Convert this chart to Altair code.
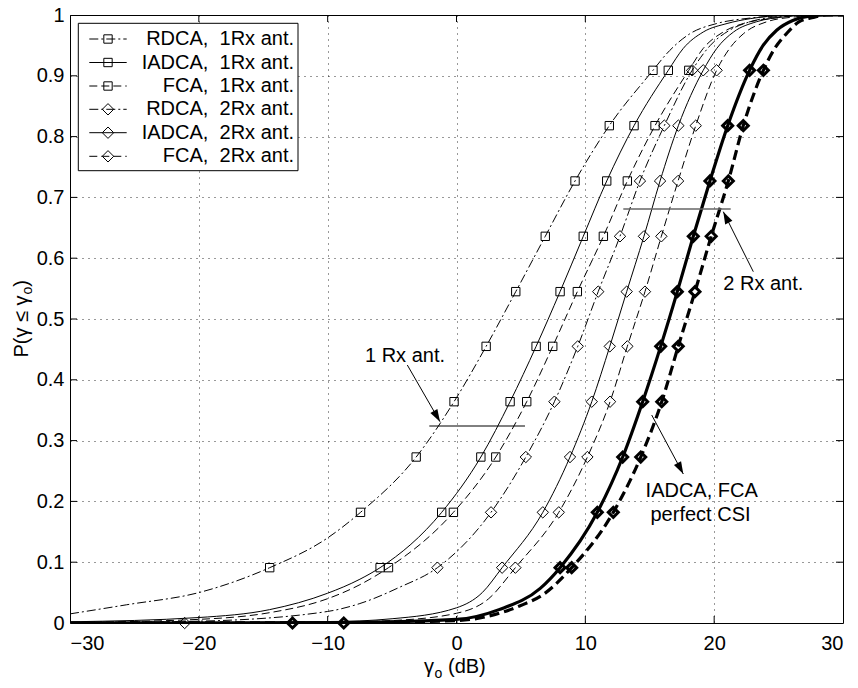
import math
import altair as alt
import pandas as pd

FONT = "Liberation Sans"

# ---------------- data ----------------
# probability levels of the markers
levels = [0.091, 0.182, 0.273, 0.364, 0.455, 0.545, 0.636, 0.727, 0.818, 0.909]

series_names = ["RDCA1", "IADCA1", "FCA1", "RDCA2", "IADCA2", "FCA2", "IADCAp", "FCAp"]

# marker x positions (dB) at the levels above
rdca1_mx = [-14.5, -7.45, -3.13, -0.19, 2.3, 4.6, 6.89, 9.2, 11.86, 15.25]
iadca1_mx = [-5.93, -1.15, 1.89, 4.16, 6.18, 8.04, 9.84, 11.66, 13.78, 16.44]
fca1_mx = [-5.28, -0.24, 3.05, 5.45, 7.47, 9.38, 11.4, 13.26, 15.41, 18.03]
rdca2_mx = [-1.48, 2.68, 5.38, 7.6, 9.41, 11.0, 12.69, 14.24, 16.13, 18.29]
iadca2_mx = [3.54, 6.7, 8.81, 10.5, 11.9, 13.21, 14.55, 15.8, 17.22, 19.15]
fca2_mx = [4.57, 7.94, 10.16, 11.92, 13.26, 14.63, 15.9, 17.2, 18.57, 20.19]
iadcap_mx = [8.04, 10.93, 12.9, 14.45, 15.85, 17.14, 18.38, 19.67, 21.05, 22.75]
fcap_mx = [8.94, 12.17, 14.3, 15.93, 17.21, 18.51, 19.77, 21.1, 22.26, 23.82]

# markers sitting at P = 0
zero_series = ["RDCA2", "IADCAp", "FCAp"]
zero_x = [-21.1, -12.73, -8.75]

# lower tails of the curves
rdca1_lo_x = [-30, -25.6, -20, -10]
rdca1_lo_y = [0.015, 0.030, 0.050, 0.140]
iadca1_lo_x = [-30, -20, -14.5, -10, -7.5]
iadca1_lo_y = [0.002, 0.009, 0.022, 0.049, 0.072]
fca1_lo_x = [-30, -20, -14.5, -10, -7.5]
fca1_lo_y = [0.001, 0.006, 0.017, 0.040, 0.063]
rdca2_lo_x = [-30, -20, -10, -7.5, -4.5]
rdca2_lo_y = [0.0005, 0.003, 0.019, 0.032, 0.058]
iadca2_lo_x = [-30, -10, -5, 0, 2]
iadca2_lo_y = [0.0, 0.002, 0.007, 0.025, 0.050]
fca2_lo_x = [-30, -10, -5, 0, 2.5]
fca2_lo_y = [0.0, 0.001, 0.004, 0.016, 0.040]
iadcap_lo_x = [-30, -10, 0, 3.3, 6.5]
iadcap_lo_y = [0.0, 0.0005, 0.006, 0.022, 0.057]
fcap_lo_x = [-30, -10, 0, 4.9, 6.74]
fcap_lo_y = [0.0, 0.0003, 0.004, 0.028, 0.047]

# upper tails of the curves
rdca1_hi_x = [16.3, 18.1, 20.2, 22.8, 25.4, 30]
rdca1_hi_y = [0.936, 0.969, 0.986, 0.995, 0.999, 1.0]
iadca1_hi_x = [17.6, 19.15, 21.0, 22.8, 25.5, 30]
iadca1_hi_y = [0.945, 0.972, 0.986, 0.994, 0.999, 1.0]
fca1_hi_x = [19.15, 20.7, 22.26, 24.3, 26.5, 30]
fca1_hi_y = [0.945, 0.972, 0.986, 0.994, 0.999, 1.0]
rdca2_hi_x = [19.7, 21.2, 22.8, 24.8, 27, 30]
rdca2_hi_y = [0.95, 0.975, 0.989, 0.997, 1.0, 1.0]
iadca2_hi_x = [20.2, 21.5, 23.3, 25.5, 27.5, 30]
iadca2_hi_y = [0.945, 0.972, 0.989, 0.997, 1.0, 1.0]
fca2_hi_x = [21.2, 22.26, 24.1, 26.3, 28, 30]
fca2_hi_y = [0.945, 0.969, 0.989, 0.997, 1.0, 1.0]
iadcap_hi_x = [23.8, 24.85, 26.1, 27.4, 29, 30]
iadcap_hi_y = [0.95, 0.975, 0.991, 0.998, 1.0, 1.0]
fcap_hi_x = [24.7, 25.6, 26.6, 27.7, 28.7, 30]
fcap_hi_y = [0.945, 0.969, 0.989, 0.996, 1.0, 1.0]

legend_labels = ["RDCA,\u00a0\u00a01Rx ant.", "IADCA,\u00a0\u00a01Rx ant.", "FCA,\u00a0\u00a01Rx ant.",
                 "RDCA,\u00a0\u00a02Rx ant.", "IADCA,\u00a0\u00a02Rx ant.", "FCA,\u00a0\u00a02Rx ant."]

x_ticks = [-30, -20, -10, 0, 10, 20, 30]
y_ticks = [0.0, 0.1, 0.2, 0.3, 0.4, 0.5, 0.6, 0.7, 0.8, 0.9, 1.0]

# ---------------- tables ----------------
parts = {
    "RDCA1": (rdca1_lo_x, rdca1_lo_y, rdca1_mx, rdca1_hi_x, rdca1_hi_y),
    "IADCA1": (iadca1_lo_x, iadca1_lo_y, iadca1_mx, iadca1_hi_x, iadca1_hi_y),
    "FCA1": (fca1_lo_x, fca1_lo_y, fca1_mx, fca1_hi_x, fca1_hi_y),
    "RDCA2": (rdca2_lo_x, rdca2_lo_y, rdca2_mx, rdca2_hi_x, rdca2_hi_y),
    "IADCA2": (iadca2_lo_x, iadca2_lo_y, iadca2_mx, iadca2_hi_x, iadca2_hi_y),
    "FCA2": (fca2_lo_x, fca2_lo_y, fca2_mx, fca2_hi_x, fca2_hi_y),
    "IADCAp": (iadcap_lo_x, iadcap_lo_y, iadcap_mx, iadcap_hi_x, iadcap_hi_y),
    "FCAp": (fcap_lo_x, fcap_lo_y, fcap_mx, fcap_hi_x, fcap_hi_y),
}
line_rows, mark_rows = [], []
for s in series_names:
    lx, ly, mx, hx, hy = parts[s]
    pts = list(zip(lx, ly)) + list(zip(mx, levels)) + list(zip(hx, hy))
    pts.sort(key=lambda p: p[0])
    for x, y in pts:
        line_rows.append({"s": s, "x": x, "y": y})
    for x, y in zip(mx, levels):
        mark_rows.append({"s": s, "x": x, "y": y})
for s, x in zip(zero_series, zero_x):
    mark_rows.append({"s": s, "x": x, "y": 0.0})
lines_df = pd.DataFrame(line_rows)
marks_df = pd.DataFrame(mark_rows)

# ---------------- scales / axes ----------------
W, H = 773, 608
PX = W / 60.0
PY = H / 1.0

def px2x(px):
    return (px - 70) / PX - 30

def py2y(py):
    return (623 - py) / PY

xscale = alt.Scale(domain=[-30, 30], nice=False, zero=False)
yscale = alt.Scale(domain=[0, 1], nice=False, zero=False)
X = alt.X("x:Q", scale=xscale, axis=alt.Axis(
    values=x_ticks, title="", grid=True, ticks=False, domain=False, labelPadding=10))
Y = alt.Y("y:Q", scale=yscale, axis=alt.Axis(
    values=y_ticks, title="", grid=True, ticks=False, domain=False, labelPadding=6,
    labelExpr="datum.value < 0.001 ? '0' : (datum.value > 0.999 ? '1' : format(datum.value, '.1f'))"))

DASHDOT = [9, 3, 2, 3]
DASH = [8, 4]
THICKDASH = [10, 5]

styles = {
    "RDCA1": dict(strokeWidth=1, strokeDash=DASHDOT),
    "IADCA1": dict(strokeWidth=1),
    "FCA1": dict(strokeWidth=1, strokeDash=DASH),
    "RDCA2": dict(strokeWidth=1, strokeDash=DASHDOT),
    "IADCA2": dict(strokeWidth=1),
    "FCA2": dict(strokeWidth=1, strokeDash=DASH),
    "IADCAp": dict(strokeWidth=3.2),
    "FCAp": dict(strokeWidth=3.2, strokeDash=THICKDASH),
}
marker_style = {
    "RDCA1": dict(shape="square", size=70, strokeWidth=1),
    "IADCA1": dict(shape="square", size=70, strokeWidth=1),
    "FCA1": dict(shape="square", size=70, strokeWidth=1),
    "RDCA2": dict(shape="diamond", size=130, strokeWidth=1),
    "IADCA2": dict(shape="diamond", size=130, strokeWidth=1),
    "FCA2": dict(shape="diamond", size=130, strokeWidth=1),
    "IADCAp": dict(shape="diamond", size=100, strokeWidth=3),
    "FCAp": dict(shape="diamond", size=100, strokeWidth=3),
}

layers = []
for s in series_names:
    layers.append(
        alt.Chart(lines_df).transform_filter(alt.datum.s == s)
        .mark_line(interpolate="monotone", color="black", clip=True, **styles[s])
        .encode(x=X, y=Y, order="x:Q")
    )
for s in series_names:
    layers.append(
        alt.Chart(marks_df).transform_filter(alt.datum.s == s)
        .mark_point(filled=False, color="black", opacity=1, **marker_style[s])
        .encode(x=X, y=Y)
    )

# inward tick marks on all four sides
tl_y = 7 / PY
tl_x = 7 / PX
tick_rows = []
for t in x_ticks[1:-1]:
    tick_rows.append({"x": t, "x2": t, "y": 0, "y2": tl_y})
    tick_rows.append({"x": t, "x2": t, "y": 1 - tl_y, "y2": 1})
for t in y_ticks[1:-1]:
    tick_rows.append({"x": -30, "x2": -30 + tl_x, "y": t, "y2": t})
    tick_rows.append({"x": 30 - tl_x, "x2": 30, "y": t, "y2": t})
layers.append(
    alt.Chart(pd.DataFrame(tick_rows)).mark_rule(color="black", strokeWidth=1)
    .encode(x=X, x2="x2:Q", y=Y, y2="y2:Q")
)

# ---------------- axis titles (with subscript o) ----------------
xt = pd.DataFrame([
    {"x": px2x(424.0), "y": py2y(673), "t": "γ", "k": "big"},
    {"x": px2x(434.5), "y": py2y(678), "t": "o", "k": "small"},
    {"x": px2x(448.0), "y": py2y(673), "t": "(dB)", "k": "big"},
])
layers.append(alt.Chart(xt).transform_filter(alt.datum.k == "big")
              .mark_text(font=FONT, fontSize=20, color="black", align="left", baseline="alphabetic")
              .encode(x=X, y=Y, text="t:N"))
layers.append(alt.Chart(xt).transform_filter(alt.datum.k == "small")
              .mark_text(font=FONT, fontSize=14, color="black", align="left", baseline="alphabetic")
              .encode(x=X, y=Y, text="t:N"))

yt = pd.DataFrame([
    {"x": px2x(28), "y": py2y(357.5), "t": "P(γ ≤ γ", "k": "big"},
    {"x": px2x(32), "y": py2y(294.5), "t": "o", "k": "small"},
    {"x": px2x(28), "y": py2y(286.7), "t": ")", "k": "big"},
])
layers.append(alt.Chart(yt).transform_filter(alt.datum.k == "big")
              .mark_text(font=FONT, fontSize=20, color="black", align="left", baseline="alphabetic",
                         angle=270)
              .encode(x=X, y=Y, text="t:N"))
layers.append(alt.Chart(yt).transform_filter(alt.datum.k == "small")
              .mark_text(font=FONT, fontSize=14, color="black", align="left", baseline="alphabetic",
                         angle=270)
              .encode(x=X, y=Y, text="t:N"))

# ---------------- annotations ----------------
hl = pd.DataFrame([
    {"x": px2x(429.3), "x2": px2x(525), "y": py2y(426), "c": "k"},
    {"x": px2x(623.3), "x2": px2x(730.7), "y": py2y(209), "c": "g"},
])
layers.append(alt.Chart(hl).transform_filter(alt.datum.c == "k")
              .mark_rule(color="black", strokeWidth=1).encode(x=X, x2="x2:Q", y=Y))
layers.append(alt.Chart(hl).transform_filter(alt.datum.c == "g")
              .mark_rule(color="#666666", strokeWidth=1.5).encode(x=X, x2="x2:Q", y=Y))

arrows_px = [
    ((407.3, 365.0), (440.0, 421.7)),
    ((753.3, 271.7), (723.3, 211.7)),
    ((651.7, 415.0), (683.3, 474.0)),
]
arrow_rows, head_rows = [], []
for (tx, ty), (hx, hy) in arrows_px:
    arrow_rows.append({"x": px2x(tx), "y": py2y(ty), "x2": px2x(hx), "y2": py2y(hy)})
    ang = math.degrees(math.atan2(hx - tx, -(hy - ty))) % 360
    head_rows.append({"x": px2x(hx), "y": py2y(hy), "a": ang})
layers.append(alt.Chart(pd.DataFrame(arrow_rows)).mark_rule(color="black", strokeWidth=1)
              .encode(x=X, y=Y, x2="x2:Q", y2="y2:Q"))
layers.append(alt.Chart(pd.DataFrame(head_rows))
              .mark_point(shape="M0,0L0.33,1L-0.33,1Z", size=600, filled=True, color="black",
                          opacity=1, strokeWidth=0)
              .encode(x=X, y=Y, angle=alt.Angle("a:Q", scale=None)))

ann = pd.DataFrame([
    {"x": px2x(405), "y": py2y(356), "t": "1 Rx ant."},
    {"x": px2x(763.3), "y": py2y(284.3), "t": "2 Rx ant."},
    {"x": px2x(701.7), "y": py2y(490.7), "t": "IADCA, FCA"},
    {"x": px2x(700.5), "y": py2y(515.0), "t": "perfect CSI"},
])
layers.append(alt.Chart(ann).mark_text(font=FONT, fontSize=20, color="black",
                                       align="center", baseline="middle")
              .encode(x=X, y=Y, text="t:N"))

# ---------------- legend ----------------
box = pd.DataFrame([{"x": px2x(78.3), "x2": px2x(298), "y": py2y(23.3), "y2": py2y(170.7)}])
layers.append(alt.Chart(box).mark_rect(fill="white", stroke="black", strokeWidth=1)
              .encode(x=X, x2="x2:Q", y=Y, y2="y2:Q"))
row_py = [39.0, 62.5, 86.0, 109.3, 132.7, 156.3]
leg_series = series_names[:6]
leg_line_rows, leg_mark_rows, leg_text_rows = [], [], []
for s, lab, ry in zip(leg_series, legend_labels, row_py):
    leg_line_rows.append({"s": s, "x": px2x(89.3), "x2": px2x(126.7), "y": py2y(ry)})
    leg_mark_rows.append({"s": s, "x": px2x(108.0), "y": py2y(ry)})
    leg_text_rows.append({"s": s, "x": px2x(294.0), "y": py2y(ry), "t": lab})
leg_lines = pd.DataFrame(leg_line_rows)
leg_marks = pd.DataFrame(leg_mark_rows)
leg_texts = pd.DataFrame(leg_text_rows)
for s in leg_series:
    layers.append(alt.Chart(leg_lines).transform_filter(alt.datum.s == s)
                  .mark_rule(color="black", **styles[s]).encode(x=X, x2="x2:Q", y=Y))
    layers.append(alt.Chart(leg_marks).transform_filter(alt.datum.s == s)
                  .mark_point(filled=False, color="black", opacity=1, **marker_style[s])
                  .encode(x=X, y=Y))
layers.append(alt.Chart(leg_texts).mark_text(font=FONT, fontSize=20, color="black",
                                             align="right", baseline="middle")
              .encode(x=X, y=Y, text="t:N"))

chart = (
    alt.layer(*layers)
    .properties(width=W, height=H, padding={"left": 70, "top": 15, "right": 15, "bottom": 65},
                autosize=alt.AutoSizeParams(type="none"), background="white")
    .configure_view(stroke="black", strokeWidth=1)
    .configure_axis(labelFont=FONT, titleFont=FONT, labelFontSize=20, titleFontSize=20,
                    labelColor="black", titleColor="black", titleFontWeight="normal",
                    gridColor="black", gridDash=[1, 5], gridOpacity=0.8, gridWidth=1)
)

chart.save("out.html", embed_options={"renderer": "svg", "actions": False})
